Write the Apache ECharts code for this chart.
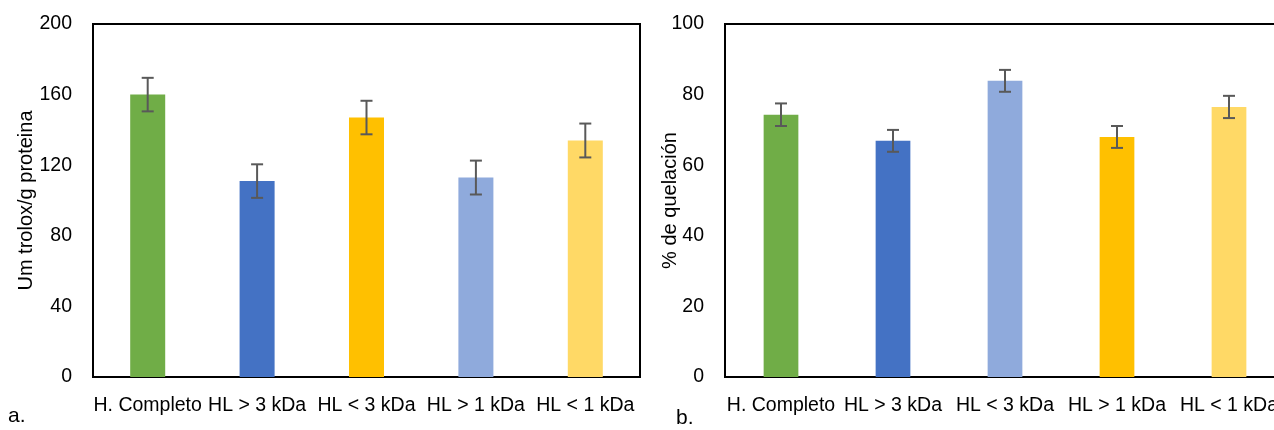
<!DOCTYPE html>
<html>
<head>
<meta charset="utf-8">
<script src="https://cdn.jsdelivr.net/npm/echarts@6/dist/echarts.min.js"></script>
<style>
html,body{margin:0;padding:0;background:#fff;}
#chart{width:1274px;height:430px;}
</style>
</head>
<body>
<div id="chart"></div>
<script>
// ---- data ----
const categoriesA = ['H. Completo', 'HL > 3 kDa', 'HL < 3 kDa', 'HL > 1 kDa', 'HL < 1 kDa'];
const valuesA = [160, 111, 147, 113, 134];
const errorsA = [9.5, 9.5, 9.5, 9.6, 9.6];
const yTicksA = [0, 40, 80, 120, 160, 200];

const categoriesB = ['H. Completo', 'HL > 3 kDa', 'HL < 3 kDa', 'HL > 1 kDa', 'HL < 1 kDa'];
const valuesB = [74.3, 66.9, 83.9, 68.0, 76.5];
const errorsB = [3.2, 3.1, 3.1, 3.1, 3.15];
const yTicksB = [0, 20, 40, 60, 80, 100];

// ---- styles ----
const colorsA = ['#70AD47', '#4472C4', '#FFC000', '#8FAADC', '#FFD966'];
const colorsB = ['#70AD47', '#4472C4', '#8FAADC', '#FFC000', '#FFD966'];
const FONT = '"Liberation Sans", Arial, sans-serif';
const FS = 19.5;
const NFS = 20;

function barData(vals, cols) {
  return vals.map((v, i) => ({ value: v, itemStyle: { color: cols[i] } }));
}
function errData(vals, errs) {
  return vals.map((v, i) => [i, v - errs[i], v + errs[i]]);
}
function renderErr(params, api) {
  const i = api.value(0);
  const lo = api.coord([i, api.value(1)]);
  const hi = api.coord([i, api.value(2)]);
  const cap = 6;
  const style = { stroke: '#595959', lineWidth: 2 };
  return {
    type: 'group',
    children: [
      { type: 'line', shape: { x1: lo[0], y1: lo[1], x2: hi[0], y2: hi[1] }, style },
      { type: 'line', shape: { x1: lo[0] - cap, y1: lo[1], x2: lo[0] + cap, y2: lo[1] }, style },
      { type: 'line', shape: { x1: hi[0] - cap, y1: hi[1], x2: hi[0] + cap, y2: hi[1] }, style }
    ]
  };
}
function xAxisOf(cats, gi) {
  return {
    type: 'category', gridIndex: gi, data: cats,
    axisTick: { show: false },
    axisLine: { show: true, lineStyle: { color: '#000', width: 2 } },
    axisLabel: { interval: 0, hideOverlap: false, color: '#000', fontFamily: FONT, fontSize: FS, margin: 19 }
  };
}
function yAxisOf(ticks, name, gap, gi) {
  return {
    type: 'value', gridIndex: gi, min: ticks[0], max: ticks[ticks.length - 1],
    interval: ticks[1] - ticks[0],
    name: name, nameLocation: 'middle', nameGap: gap, nameRotate: 90,
    nameMoveOverlap: false,
    nameTextStyle: { color: '#000', fontFamily: FONT, fontSize: NFS },
    splitLine: { show: false },
    axisTick: { show: false },
    axisLine: { show: true, lineStyle: { color: '#000', width: 2 } },
    axisLabel: { color: '#000', fontFamily: FONT, fontSize: FS, margin: 21 }
  };
}

const chart = echarts.init(document.getElementById('chart'));
chart.setOption({
  animation: false,
  backgroundColor: '#fff',
  grid: [
    { left: 93, top: 24, width: 547, height: 353, show: true, borderColor: '#000', borderWidth: 2, containLabel: false, outerBoundsMode: 'none' },
    { left: 725, top: 24, width: 560, height: 353, show: true, borderColor: '#000', borderWidth: 2, containLabel: false, outerBoundsMode: 'none' }
  ],
  xAxis: [xAxisOf(categoriesA, 0), xAxisOf(categoriesB, 1)],
  yAxis: [yAxisOf(yTicksA, 'Um trolox/g proteina', 57, 0), yAxisOf(yTicksB, '% de quelación', 45, 1)],
  series: [
    { type: 'bar', xAxisIndex: 0, yAxisIndex: 0, barWidth: '32%', data: barData(valuesA, colorsA) },
    { type: 'custom', xAxisIndex: 0, yAxisIndex: 0, renderItem: renderErr, data: errData(valuesA, errorsA), z: 5 },
    { type: 'bar', xAxisIndex: 1, yAxisIndex: 1, barWidth: '31%', data: barData(valuesB, colorsB) },
    { type: 'custom', xAxisIndex: 1, yAxisIndex: 1, renderItem: renderErr, data: errData(valuesB, errorsB), z: 5 }
  ],
  graphic: [
    { type: 'text', left: 8, top: 406, style: { text: 'a.', font: '21px ' + FONT, fill: '#000' } },
    { type: 'text', left: 676, top: 408, style: { text: 'b.', font: '21px ' + FONT, fill: '#000' } }
  ]
});
</script>
</body>
</html>
